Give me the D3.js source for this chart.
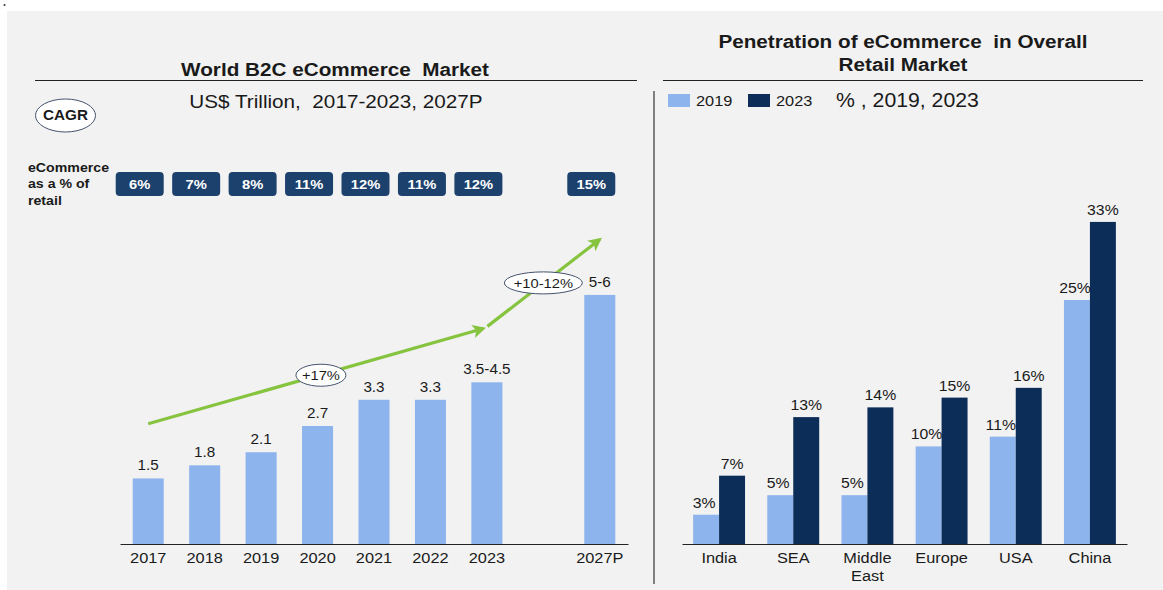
<!DOCTYPE html>
<html>
<head>
<meta charset="utf-8">
<script src="https://cdn.jsdelivr.net/npm/d3@7"></script>
<style>
  html, body { margin: 0; padding: 0; background: #ffffff; }
  svg { display: block; font-family: "Liberation Sans", Arial, sans-serif; }
  text { white-space: pre; }
</style>
</head>
<body>
<svg id="chart" width="1163" height="590"></svg>
<script>
// ---- World B2C eCommerce market (US$ trillion) ----
const years = ["2017", "2018", "2019", "2020", "2021", "2022", "2023", "", "2027P"];
const marketYears = ["2017", "2018", "2019", "2020", "2021", "2022", "2023", "2027P"];
const marketValues = [1.5, 1.8, 2.1, 2.7, 3.3, 3.3, 3.7, 5.7];
const marketLabels = ["1.5", "1.8", "2.1", "2.7", "3.3", "3.3", "3.5-4.5", "5-6"];
const retailShare = ["6%", "7%", "8%", "11%", "12%", "11%", "12%", "15%"];

// CAGR trend arrows (start/end in market units)
const trendSegments = [
  { from: { x: "2017", v: 2.75 }, to: { x: "2023", v: 4.93 }, label: "+17%", at: 0.51 },
  { from: { x: "2023", v: 4.98 }, to: { x: "2027P", v: 6.97 }, label: "+10-12%", at: 0.5 }
];

// ---- Penetration of eCommerce in overall retail (%) ----
const regions = ["India", "SEA", "Middle East", "Europe", "USA", "China"];
const seriesNames = ["2019", "2023"];
const pen2019 = [3, 5, 5, 10, 11, 25];
const pen2023 = [7, 13, 14, 15, 16, 33];

const colLight = "#8db4ec";
const colDark = "#0b2d57";
const colPill = "#1c416d";
const colGreen = "#86c440";
const colText = "#1a1a1a";
const textStretch = 1.09; // lettering is set slightly wide

const svg = d3.select("#chart");

// panel background
svg.append("rect").attr("x", 7).attr("y", 11).attr("width", 1156).attr("height", 579).attr("fill", "#f2f2f2");
svg.append("circle").attr("cx", 4.5).attr("cy", 5).attr("r", 1).attr("fill", "#333");

// header rules and divider
svg.append("line").attr("x1", 35).attr("x2", 637).attr("y1", 80.5).attr("y2", 80.5).attr("stroke", "#222").attr("stroke-width", 1.2);
svg.append("line").attr("x1", 663).attr("x2", 1143).attr("y1", 80.5).attr("y2", 80.5).attr("stroke", "#222").attr("stroke-width", 1.2);
svg.append("line").attr("x1", 654).attr("x2", 654).attr("y1", 91).attr("y2", 584).attr("stroke", "#333").attr("stroke-width", 1.2);

// ================= LEFT PANEL =================
svg.append("text").attr("x", 335).attr("y", 76).attr("text-anchor", "middle")
  .attr("font-size", 19).attr("font-weight", "bold").attr("fill", colText)
  .text("World B2C eCommerce  Market");
svg.append("text").attr("x", 336).attr("y", 108).attr("text-anchor", "middle")
  .attr("font-size", 19).attr("fill", colText)
  .text("US$ Trillion,  2017-2023, 2027P");

// CAGR badge
svg.append("ellipse").attr("cx", 65.5).attr("cy", 115.5).attr("rx", 30).attr("ry", 16.5)
  .attr("fill", "#ffffff").attr("stroke", "#44536e").attr("stroke-width", 1);
svg.append("text").attr("x", 65.5).attr("y", 120.5).attr("text-anchor", "middle")
  .attr("font-size", 14).attr("font-weight", "bold").attr("fill", colText).text("CAGR");

// side caption for share pills
["eCommerce", "as a % of", "retail"].forEach((t, i) => {
  svg.append("text").attr("x", 28).attr("y", 172 + i * 16.3)
    .attr("font-size", 13).attr("font-weight", "bold").attr("fill", colText).text(t);
});

const xL = d3.scaleBand().domain(years).range([120, 628]).paddingInner(0.45).paddingOuter(0.225);
const yL = d3.scaleLinear().domain([0, 6]).range([544, 544 - 6 * 43.7]);

// share-of-retail pills
const pills = svg.append("g");
marketYears.forEach((yr, i) => {
  const cx = xL(yr) + xL.bandwidth() / 2 - 8.5;
  pills.append("rect").attr("x", cx - 24).attr("y", 172).attr("width", 48).attr("height", 24)
    .attr("rx", 4).attr("fill", colPill);
  pills.append("text").attr("x", cx).attr("y", 189).attr("text-anchor", "middle")
    .attr("font-size", 13.5).attr("font-weight", "bold").attr("fill", "#ffffff").text(retailShare[i]);
});

// bars
svg.append("g").selectAll("rect").data(marketYears).join("rect")
  .attr("x", d => xL(d))
  .attr("width", xL.bandwidth())
  .attr("y", (d, i) => yL(marketValues[i]))
  .attr("height", (d, i) => yL(0) - yL(marketValues[i]))
  .attr("fill", colLight);

svg.append("g").selectAll("text").data(marketYears).join("text")
  .attr("x", d => xL(d) + xL.bandwidth() / 2)
  .attr("y", (d, i) => yL(marketValues[i]) - 8)
  .attr("text-anchor", "middle").attr("font-size", 14).attr("fill", colText)
  .text((d, i) => marketLabels[i]);

// axis
const axL = svg.append("g").attr("transform", "translate(0,544)")
  .call(d3.axisBottom(xL).tickSize(0).tickPadding(8));
axL.select(".domain").attr("stroke", "#222").attr("stroke-width", 1.2);
axL.selectAll("text").attr("font-size", 15).attr("fill", colText).attr("font-family", null);

// trend arrows
const defs = svg.append("defs");
defs.append("marker").attr("id", "arrowHead").attr("viewBox", "0 0 10 10")
  .attr("refX", 8).attr("refY", 5).attr("markerWidth", 4.2).attr("markerHeight", 4.2)
  .attr("orient", "auto").append("path").attr("d", "M0,0 L10,5 L0,10 L2.5,5 Z").attr("fill", colGreen);

const cxOf = k => xL(k) + xL.bandwidth() / 2;
trendSegments.forEach((s, i) => {
  const x1 = cxOf(s.from.x) + (i === 1 ? 0.5 : 0), y1 = yL(s.from.v);
  const x2 = cxOf(s.to.x) - (i === 0 ? 3.5 : 0), y2 = yL(s.to.v);
  svg.append("line").attr("x1", x1).attr("y1", y1).attr("x2", x2).attr("y2", y2)
    .attr("stroke", colGreen).attr("stroke-width", 3.2).attr("marker-end", "url(#arrowHead)");
});
trendSegments.forEach((s, i) => {
  const x1 = cxOf(s.from.x), y1 = yL(s.from.v);
  const x2 = cxOf(s.to.x), y2 = yL(s.to.v);
  const ex = x1 + (x2 - x1) * s.at, ey = y1 + (y2 - y1) * s.at;
  const rx = i === 0 ? 25 : 39;
  svg.append("ellipse").attr("cx", ex).attr("cy", ey).attr("rx", rx).attr("ry", 11)
    .attr("fill", "#ffffff").attr("stroke", "#44536e").attr("stroke-width", 1);
  svg.append("text").attr("x", ex).attr("y", ey + 5).attr("text-anchor", "middle")
    .attr("font-size", 13.5).attr("fill", colText).text(s.label);
});

// ================= RIGHT PANEL =================
svg.append("text").attr("x", 903).attr("y", 48).attr("text-anchor", "middle")
  .attr("font-size", 19).attr("font-weight", "bold").attr("fill", colText)
  .text("Penetration of eCommerce  in Overall");
svg.append("text").attr("x", 903).attr("y", 71).attr("text-anchor", "middle")
  .attr("font-size", 19).attr("font-weight", "bold").attr("fill", colText)
  .text("Retail Market");

// legend
const legend = svg.append("g");
seriesNames.forEach((nm, i) => {
  const lx = 668 + i * 80;
  legend.append("rect").attr("x", lx).attr("y", 94).attr("width", 22).attr("height", 13)
    .attr("fill", i === 0 ? colLight : colDark);
  legend.append("text").attr("x", lx + 28).attr("y", 106).attr("font-size", 15).attr("fill", colText).text(nm);
});
legend.append("text").attr("x", 836).attr("y", 107.5).attr("font-size", 19.5).attr("fill", colText).text("% , 2019, 2023");

const xR = d3.scaleBand().domain(regions).range([682, 1127]).paddingInner(0.3).paddingOuter(0.15);
const xR2 = d3.scaleBand().domain(seriesNames).range([0, xR.bandwidth()]);
const yR = d3.scaleLinear().domain([0, 35]).range([544, 544 - 35 * 9.76]);

const rows = regions.map((r, i) => ({ region: r, vals: [pen2019[i], pen2023[i]] }));
const grp = svg.append("g").selectAll("g").data(rows).join("g")
  .attr("transform", d => `translate(${xR(d.region)},0)`);
grp.selectAll("rect").data(d => d.vals.map((v, j) => ({ s: seriesNames[j], v }))).join("rect")
  .attr("x", d => xR2(d.s)).attr("width", xR2.bandwidth())
  .attr("y", d => yR(d.v)).attr("height", d => yR(0) - yR(d.v))
  .attr("fill", d => d.s === "2019" ? colLight : colDark);
grp.selectAll("text").data(d => d.vals.map((v, j) => ({ s: seriesNames[j], v }))).join("text")
  .attr("x", d => xR2(d.s) + xR2.bandwidth() / 2 - (d.s === "2019" ? 2 : 0))
  .attr("y", d => yR(d.v) - 7)
  .attr("text-anchor", "middle").attr("font-size", 14.5).attr("fill", colText)
  .text(d => d.v + "%");

const axR = svg.append("g").attr("transform", "translate(0,544)")
  .call(d3.axisBottom(xR).tickSize(0).tickPadding(8));
axR.select(".domain").attr("stroke", "#222").attr("stroke-width", 1.2);
axR.selectAll("text").attr("font-size", 15).attr("fill", colText).attr("font-family", null)
  .each(function (d) {
    const parts = d.split(" ");
    if (parts.length > 1) {
      const t = d3.select(this).text(null);
      parts.forEach((p, k) => t.append("tspan").attr("x", 0).attr("dy", k === 0 ? "0.71em" : "1.25em").text(p));
    }
  });

// widen all lettering horizontally about its anchor point
svg.selectAll("text").each(function () {
  const t = d3.select(this);
  const x = +t.attr("x") || 0, y = +t.attr("y") || 0;
  t.attr("transform", `translate(${x},${y}) scale(${textStretch},1) translate(${-x},${-y})`);
});
</script>
</body>
</html>
